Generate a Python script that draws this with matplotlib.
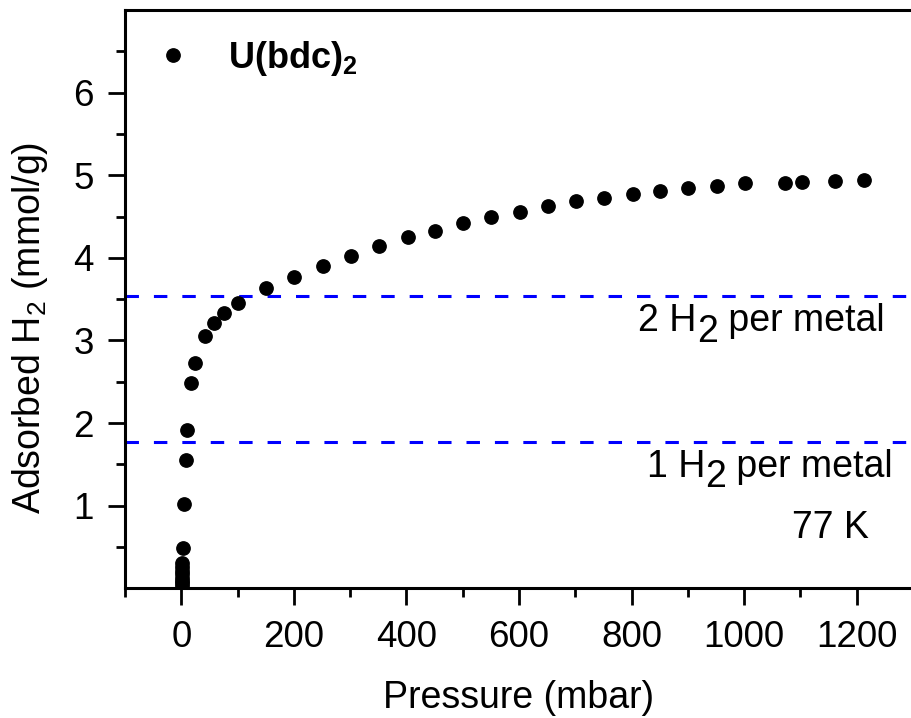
import numpy as np
import matplotlib
matplotlib.use("Agg")
import matplotlib.pyplot as plt
from matplotlib.ticker import MultipleLocator, FixedLocator

plt.rcParams['font.family'] = ['Liberation Sans', 'DejaVu Sans']
plt.rcParams['mathtext.fontset'] = 'custom'
plt.rcParams['mathtext.rm'] = 'Liberation Sans'
plt.rcParams['mathtext.it'] = 'Liberation Sans:italic'
plt.rcParams['mathtext.bf'] = 'Liberation Sans:bold'

# H2 isotherm at 77 K
pressure = [0.4, 0.6, 0.8, 1.0, 1.2, 1.4, 1.7, 2.0, 2.8, 5.3, 7.6, 10.6, 17.7,
            24, 42, 58, 75.6, 101, 151, 201, 252, 302, 351, 402, 451, 501,
            551, 601, 651, 701, 751, 802, 851, 901, 952, 1002, 1072, 1102,
            1161, 1213]
adsorbed = [0.03, 0.06, 0.09, 0.13, 0.17, 0.21, 0.26, 0.31, 0.49, 1.02, 1.55,
            1.92, 2.49, 2.73, 3.06, 3.21, 3.33, 3.45, 3.63, 3.77, 3.90, 4.02,
            4.14, 4.25, 4.33, 4.42, 4.49, 4.56, 4.63, 4.69, 4.73, 4.77, 4.81,
            4.84, 4.87, 4.90, 4.91, 4.92, 4.93, 4.94]

# capacity for 1 and 2 H2 per metal site
per_metal = [1.77, 3.54]
per_metal_labels = ["1", "2"]

fs = 27

fig = plt.figure(figsize=(9.11, 7.18), dpi=100)
ax = fig.add_axes([125/911, 129.7/718, 788/911, 578.3/718])

for y in per_metal:
    ax.axhline(y, color=(0, 0, 1), lw=2.2, dashes=(4.4, 4.9), zorder=1)

ax.plot(pressure, adsorbed, 'o', color='black', markersize=9.6,
        label=r"U(bdc)$_\mathbf{2}$", zorder=3)


def sub_label(x, y, lead, tail):
    # "n H" + full-size lowered "2" + " per metal"
    t1 = ax.text(x, y, lead + " H", fontsize=fs, ha='left', va='baseline')
    t2 = ax.annotate("2", xy=(1, 0), xycoords=t1, xytext=(0, -7.5),
                     textcoords='offset points', fontsize=fs,
                     ha='left', va='bottom')
    ax.annotate(" " + tail, xy=(1, 0), xycoords=t2, xytext=(0, 7.5),
                textcoords='offset points', fontsize=fs,
                ha='left', va='bottom')


sub_label(812, 3.11, per_metal_labels[1], "per metal")
sub_label(827, 1.353, per_metal_labels[0], "per metal")
ax.text(1085, 0.61, "77 K", fontsize=fs, ha='left', va='baseline')

ax.set_xlim(-100, 1300)
ax.set_ylim(0, 7)
ax.xaxis.set_major_locator(MultipleLocator(200))
ax.xaxis.set_minor_locator(MultipleLocator(100))
ax.yaxis.set_major_locator(FixedLocator([1, 2, 3, 4, 5, 6]))
ax.yaxis.set_minor_locator(FixedLocator(np.arange(0.5, 7, 1.0)))

ax.tick_params(which='major', length=12.5, width=2, labelsize=26.5, pad=10)
ax.tick_params(which='minor', length=6.5, width=2)
ax.spines['right'].set_visible(False)
for s in ['left', 'bottom', 'top']:
    ax.spines[s].set_linewidth(2.2)

ax.set_xlabel("Pressure (mbar)", fontsize=fs, labelpad=18)
ax.set_ylabel(r"Adsorbed H$_2$ (mmol/g)", fontsize=fs)
ax.yaxis.set_label_coords(50/911, 390/718, transform=fig.transFigure)

ax.legend(loc='upper left', frameon=False,
          prop={'weight': 'bold', 'size': 26}, numpoints=1,
          handlelength=1.08, handletextpad=0.96, borderaxespad=0.4)

fig.savefig("out.png", dpi=100)
